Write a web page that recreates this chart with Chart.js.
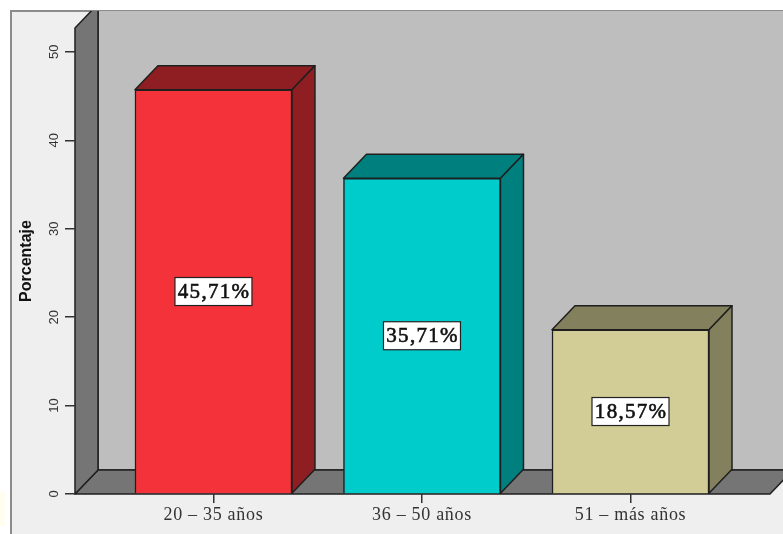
<!DOCTYPE html>
<html>
<head>
<meta charset="utf-8">
<style>html,body{margin:0;padding:0;background:#fff}canvas{display:block}</style>
<script src="https://cdn.jsdelivr.net/npm/chart.js@4"></script>
</head>
<body>
<canvas id="chart" width="783" height="534"></canvas>
<script>
const categories = ['20 – 35 años', '36 – 50 años', '51 – más años'];
const values = [45.71, 35.71, 18.57];
const frontColors = ['#f33239', '#00cccc', '#d2cd96'];
const sideColors = ['#8f1e23', '#007f7f', '#83805d'];
const yTicks = [0, 10, 20, 30, 40, 50];
const axisTitle = 'Porcentaje';

const EDGE = '#1f1f1f';
const DEPTH_X = 23;
const DEPTH_Y = 24;

function poly(ctx, pts, fill) {
  ctx.beginPath();
  pts.forEach((p, i) => i ? ctx.lineTo(p[0], p[1]) : ctx.moveTo(p[0], p[1]));
  ctx.closePath();
  ctx.fillStyle = fill;
  ctx.fill();
  ctx.lineWidth = 1.5;
  ctx.strokeStyle = EDGE;
  ctx.lineJoin = 'round';
  ctx.stroke();
}

// Panel, walls and floor of the 3D box, then the depth faces and value tags of the bars.
const box3d = {
  id: 'box3d',
  beforeDraw(chart) {
    const { ctx, chartArea: a, width, height } = chart;
    ctx.save();
    ctx.fillStyle = '#fffdf0';
    ctx.fillRect(0, 492, 5, 34);
    ctx.fillStyle = '#efefef';
    ctx.fillRect(10, 11, width - 10, height - 11);
    ctx.fillStyle = '#8c8c8c';
    ctx.fillRect(10, 10, width - 10, 2);
    ctx.fillRect(10, 10, 2, height - 10);
    ctx.beginPath();
    ctx.rect(12, 11, width - 12, height - 11);
    ctx.clip();
    const l = a.left, r = a.right, t = a.top, b = a.bottom;
    const lb = l + DEPTH_X, tb = t - DEPTH_Y, bb = b - DEPTH_Y;
    poly(ctx, [[lb, tb], [r + DEPTH_X + 20, tb], [r + DEPTH_X + 20, bb], [lb, bb]], '#bebebe');
    poly(ctx, [[l, b], [lb, bb], [r + DEPTH_X, bb], [r, b]], '#757575');
    poly(ctx, [[l, t], [lb, tb], [lb, bb], [l, b]], '#757575');
    ctx.restore();
  },
  beforeDatasetsDraw(chart) {
    const { ctx } = chart;
    ctx.save();
    chart.getDatasetMeta(0).data.forEach((el, i) => {
      const x0 = el.x - el.width / 2, x1 = el.x + el.width / 2;
      poly(ctx, [[x0, el.y], [x0 + DEPTH_X, el.y - DEPTH_Y], [x1 + DEPTH_X, el.y - DEPTH_Y], [x1, el.y]], sideColors[i]);
      poly(ctx, [[x1, el.y], [x1 + DEPTH_X, el.y - DEPTH_Y], [x1 + DEPTH_X, el.base - DEPTH_Y], [x1, el.base]], sideColors[i]);
    });
    ctx.restore();
  },
  afterDatasetsDraw(chart) {
    const { ctx } = chart;
    ctx.save();
    chart.getDatasetMeta(0).data.forEach((el, i) => {
      const cy = (el.y + el.base) / 2;
      const w = 77, h = 28;
      const tag = values[i].toFixed(2).replace('.', ',') + '%';
      ctx.fillStyle = '#fff';
      ctx.strokeStyle = '#222';
      ctx.lineWidth = 1.2;
      ctx.fillRect(el.x - w / 2, cy - h / 2, w, h);
      ctx.strokeRect(el.x - w / 2, cy - h / 2, w, h);
      ctx.fillStyle = '#111';
      ctx.strokeStyle = '#111';
      ctx.lineWidth = 0.6;
      ctx.font = '21px "Liberation Serif"';
      ctx.letterSpacing = '1.3px';
      ctx.textAlign = 'center';
      ctx.textBaseline = 'middle';
      ctx.fillText(tag, el.x + 0.6, cy + 1);
      ctx.strokeText(tag, el.x + 0.6, cy + 1);
    });
    ctx.restore();
    // The category labels are painted in the layer right after this hook.
    ctx.letterSpacing = '0.7px';
  },
  afterDraw(chart) {
    chart.ctx.letterSpacing = '0px';
  }
};

new Chart(document.getElementById('chart'), {
  type: 'bar',
  data: {
    datasets: [{
      data: values.map((v, i) => ({ x: i, y: v })),
      backgroundColor: frontColors,
      borderColor: EDGE,
      borderWidth: 1.5,
      barThickness: 157
    }]
  },
  plugins: [box3d],
  options: {
    responsive: false,
    animation: false,
    layout: { padding: { left: 10, right: 13, top: 28, bottom: 0 } },
    plugins: { legend: { display: false }, tooltip: { enabled: false } },
    scales: {
      x: {
        type: 'linear',
        offset: false,
        min: -0.664,
        max: 2.669,
        afterBuildTicks(scale) { scale.ticks = categories.map((c, i) => ({ value: i })); },
        afterFit(scale) { scale.height = 40; },
        grid: { offset: false, drawOnChartArea: false, color: '#333', tickLength: 9, lineWidth: 1.5 },
        border: { display: false },
        ticks: {
          z: 1,
          autoSkip: false,
          maxRotation: 0,
          padding: 1,
          color: '#333',
          font: { family: '"Liberation Serif"', size: 18 },
          callback: v => categories[v]
        }
      },
      y: {
        min: 0,
        max: 52.7,
        afterBuildTicks(scale) { scale.ticks = yTicks.map(v => ({ value: v })); },
        afterFit(scale) { scale.width = 65; },
        grid: { drawOnChartArea: false, color: '#333', tickLength: 10, lineWidth: 1.5 },
        border: { display: false },
        title: {
          display: true,
          text: axisTitle,
          color: '#111',
          font: { family: '"Liberation Sans"', size: 16, weight: 'bold' },
          padding: { top: 7, bottom: 0 }
        },
        ticks: {
          minRotation: 90,
          maxRotation: 90,
          crossAlign: 'center',
          padding: 3,
          color: '#333',
          font: { family: '"Liberation Sans"', size: 13 }
        }
      }
    }
  }
});
</script>
</body>
</html>
